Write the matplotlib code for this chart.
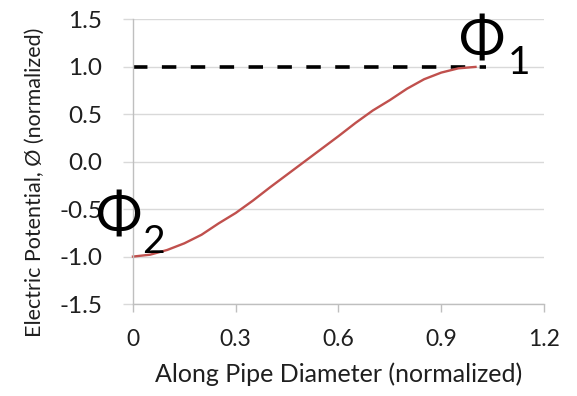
import matplotlib
matplotlib.use("Agg")
import matplotlib.pyplot as plt

# datos
x_pos = [0.00, 0.05, 0.10, 0.15, 0.20, 0.25, 0.30, 0.35, 0.40, 0.45, 0.50,
         0.55, 0.60, 0.65, 0.70, 0.75, 0.80, 0.85, 0.90, 0.95, 1.00]
potencial = [-1.00, -0.98, -0.93, -0.86, -0.77, -0.65, -0.54, -0.41, -0.27, -0.135, 0.00,
             0.135, 0.27, 0.41, 0.54, 0.65, 0.77, 0.87, 0.94, 0.985, 1.00]
ref_x = [0.0, 1.03]
ref_y = [1.0, 1.0]
xticks = [0, 0.3, 0.6, 0.9, 1.2]
xtick_labels = ["0", "0.3", "0.6", "0.9", "1.2"]
yticks = [-1.5, -1.0, -0.5, 0.0, 0.5, 1.0, 1.5]
ytick_labels = ["-1.5", "-1.0", "-0.5", "0.0", "0.5", "1.0", "1.5"]

plt.rcParams['font.family'] = ['Lato', 'Open Sans', 'DejaVu Sans']
texto = '#1f1f1f'
gris = '#bfbfbf'

fig = plt.figure(figsize=(5.77, 3.96), dpi=100)
ax = fig.add_axes([0.2305, 0.2323, 0.9428 - 0.2305, 0.9508 - 0.2323])

ax.set_xlim(0, 1.2)
ax.set_ylim(-1.5, 1.5)
ax.set_xticks(xticks)
ax.set_xticklabels(xtick_labels)
ax.set_yticks(yticks)
ax.set_yticklabels(ytick_labels)

ax.grid(axis='y', color='#d9d9d9', linewidth=1.0)
ax.set_axisbelow(True)
for s in ['top', 'right']:
    ax.spines[s].set_visible(False)
for s in ['left', 'bottom']:
    ax.spines[s].set_color(gris)
    ax.spines[s].set_linewidth(1.0)

ax.tick_params(axis='y', length=7.2, width=1.0, color='#d9d9d9', pad=15,
               labelsize=17.5, labelcolor=texto)
ax.tick_params(axis='x', length=5.8, width=1.0, color=gris, pad=12,
               labelsize=16.5, labelcolor=texto)

ax.plot(ref_x, ref_y, color='black', linewidth=2.6, dashes=(4, 4), clip_on=False)
ax.plot(x_pos, potencial, color='#c0504d', linewidth=1.7, clip_on=False)

ax.set_xlabel("Along Pipe Diameter (normalized)", fontsize=18, color=texto, labelpad=9)
fig.text(35 / 577, 1 - 182 / 396, "Electric Potential, Ø (normalized)", rotation=90,
         ha='center', va='center', fontsize=15.5, color=texto)

# etiquetas Φ
ax.text(1.019, 1.263, "Φ", fontsize=40, ha='center', va='center', color='black', clip_on=False)
ax.text(1.127, 1.041, "1", fontsize=28, ha='center', va='center', color='black', clip_on=False)
ax.text(-0.041, -0.594, "Φ", fontsize=40, ha='center', va='center', color='black', clip_on=False)
ax.text(0.061, -0.847, "2", fontsize=28, ha='center', va='center', color='black', clip_on=False)

fig.savefig("out.png", dpi=100)
